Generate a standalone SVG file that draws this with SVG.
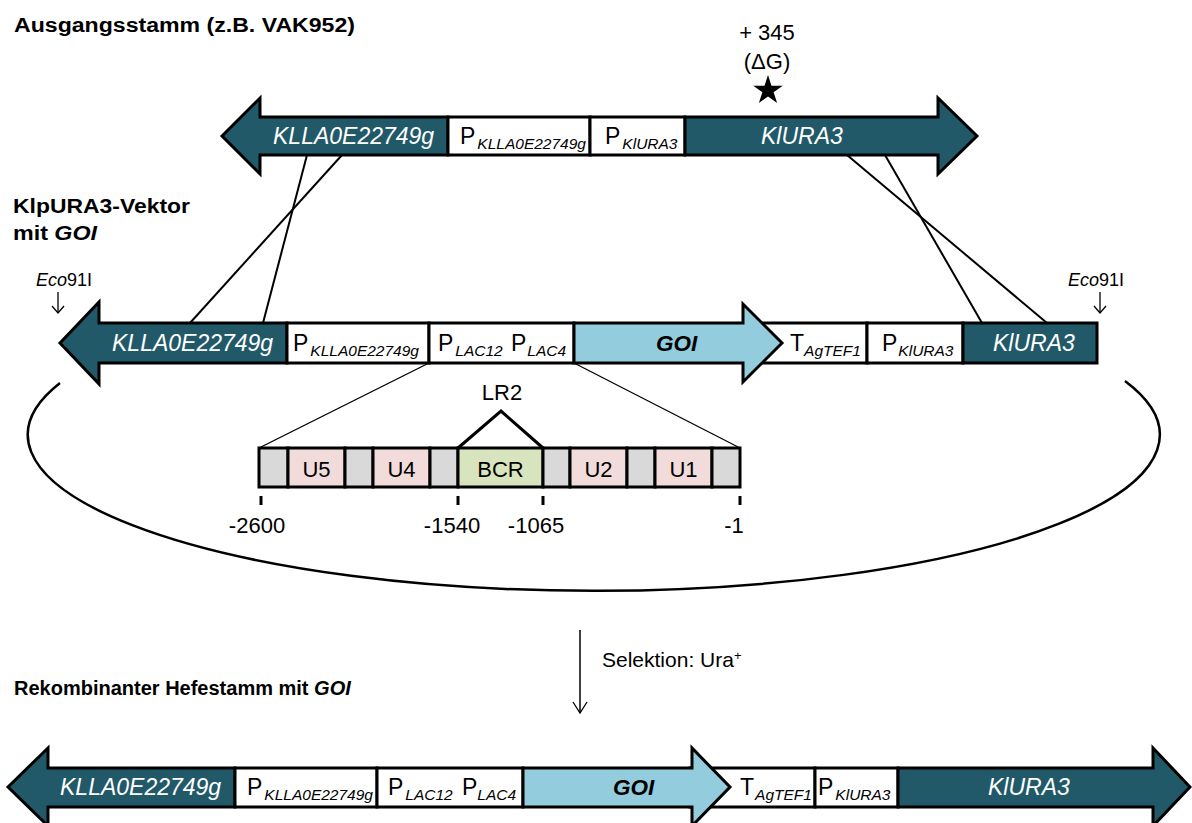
<svg xmlns="http://www.w3.org/2000/svg" width="1192" height="823" viewBox="0 0 1192 823">
<style>
text{font-family:"Liberation Sans",Arial,sans-serif;fill:#000}
.dk{fill:#215968;stroke:#000;stroke-width:3;stroke-linejoin:miter}
.wt{fill:#fff;stroke:#000;stroke-width:3}
.lb{fill:#93CDDD;stroke:#000;stroke-width:3;stroke-linejoin:miter}
.cg{fill:#D9D9D9;stroke:#000;stroke-width:3}
.cp{fill:#F2DCDB;stroke:#000;stroke-width:3}
.cb{fill:#D7E4BD;stroke:#000;stroke-width:3}
.gene{font-size:23px;font-style:italic;fill:#fff}
.pm{font-size:23px}
.sub{font-size:15.5px;font-style:italic}
.lbl{font-size:22px}
.bold{font-size:20px;font-weight:bold}
.ln{stroke:#000;stroke-width:2;fill:none}
.thin{stroke:#000;stroke-width:1.3;fill:none}
.tick{stroke:#000;stroke-width:3}
</style>
<rect width="1192" height="823" fill="#fff"/>

<g id="labels">
<text class="bold" x="14" y="32" textLength="341" lengthAdjust="spacingAndGlyphs">Ausgangsstamm (z.B. VAK952)</text>
<text class="bold" x="13" y="213" textLength="177" lengthAdjust="spacingAndGlyphs">KlpURA3-Vektor</text>
<text class="bold" x="13" y="240" textLength="84" lengthAdjust="spacingAndGlyphs">mit <tspan font-style="italic">GOI</tspan></text>
<text class="bold" x="14" y="695">Rekombinanter Hefestamm mit <tspan font-style="italic">GOI</tspan></text>
</g>

<g id="connectors">
<path d="M 60 383 A 566 156 0 1 0 1125 381" fill="none" stroke="#000" stroke-width="2.5"/>
<line class="ln" x1="342" y1="155" x2="190" y2="323"/>
<line class="ln" x1="307" y1="155" x2="263" y2="323"/>
<line class="ln" x1="847" y1="155" x2="1047" y2="323"/>
<line class="ln" x1="885" y1="155" x2="982" y2="323"/>
<line class="thin" x1="429" y1="363" x2="259" y2="448"/>
<line class="thin" x1="574" y1="363" x2="740" y2="448"/>
<line stroke="#000" stroke-width="1.5" x1="580" y1="630" x2="580" y2="713"/>
<polyline class="thin" stroke-width="1.5" points="573,702 580,713 587,702"/>
<line stroke="#000" stroke-width="1.3" x1="58" y1="292" x2="58" y2="313"/>
<polyline class="thin" points="52,306 58,313 64,306"/>
<line stroke="#000" stroke-width="1.3" x1="1100" y1="292" x2="1100" y2="313"/>
<polyline class="thin" points="1094,306 1100,313 1106,306"/>
</g>

<g id="mutation">
<text class="lbl" x="767" y="40" text-anchor="middle">+ 345</text>
<text class="lbl" x="767" y="69" text-anchor="middle">(ΔG)</text>
<polygon points="768,75 771.48,85.71 782.74,85.71 773.63,92.33 777.11,103.04 768,96.42 758.89,103.04 762.37,92.33 753.26,85.71 764.52,85.71" fill="#000"/>
</g>

<g id="top-KLLA">
<polygon class="dk" points="222,136 260,98 260,117 448,117 448,155 260,155 260,174"/>
<text class="gene" x="273" y="144">KLLA0E22749g</text>
</g>
<g id="top-PKLLA">
<rect class="wt" x="448" y="117" width="142" height="38"/>
<text class="pm" x="460" y="144">P<tspan class="sub" dx="2" dy="5">KLLA0E22749g</tspan></text>
</g>
<g id="top-PKlURA3">
<rect class="wt" x="590" y="117" width="95" height="38"/>
<text class="pm" x="605" y="144">P<tspan class="sub" dx="2" dy="5">KlURA3</tspan></text>
</g>
<g id="top-KlURA3">
<polygon class="dk" points="685,117 938,117 938,98 977,136 938,174 938,155 685,155"/>
<text class="gene" x="761" y="144">KlURA3</text>
</g>

<g id="eco-left"><text x="36" y="286" font-size="18"><tspan font-style="italic">Eco</tspan>91I</text></g>
<g id="eco-right"><text x="1068" y="286" font-size="18"><tspan font-style="italic">Eco</tspan>91I</text></g>

<g id="vec-KLLA">
<polygon class="dk" points="60,343 99,302 99,323 287,323 287,363 99,363 99,384"/>
<text class="gene" x="112" y="351">KLLA0E22749g</text>
</g>
<g id="vec-PKLLA">
<rect class="wt" x="287" y="323" width="142" height="40"/>
<text class="pm" x="293" y="351">P<tspan class="sub" dx="2" dy="5">KLLA0E22749g</tspan></text>
</g>
<g id="vec-PLAC">
<rect class="wt" x="429" y="323" width="145" height="40"/>
<text class="pm" x="438" y="351">P<tspan class="sub" dx="2" dy="5">LAC12</tspan></text>
<text class="pm" x="511" y="351">P<tspan class="sub" dx="1" dy="5">LAC4</tspan></text>
</g>
<g id="vec-T">
<rect class="wt" x="745" y="323" width="122" height="40"/>
<text class="pm" x="790" y="351">T<tspan class="sub" dx="0" dy="5">AgTEF1</tspan></text>
</g>
<g id="vec-GOI">
<polygon class="lb" points="574,323 743,323 743,304 782,343 743,382 743,363 574,363"/>
<text x="656" y="351" font-size="22.5" font-weight="bold" font-style="italic">GOI</text>
</g>
<g id="vec-PKlURA3">
<rect class="wt" x="867" y="323" width="96" height="40"/>
<text class="pm" x="882" y="351">P<tspan class="sub" dx="1" dy="5">KlURA3</tspan></text>
</g>
<g id="vec-KlURA3">
<rect class="dk" x="963" y="323" width="134" height="40"/>
<text class="gene" x="993" y="351">KlURA3</text>
</g>

<g id="promoter-detail">
<rect class="cg" x="259" y="448" width="29" height="39"/>
<rect class="cp" x="288" y="448" width="57" height="39"/>
<rect class="cg" x="345" y="448" width="28" height="39"/>
<rect class="cp" x="373" y="448" width="57" height="39"/>
<rect class="cg" x="430" y="448" width="28" height="39"/>
<rect class="cb" x="458" y="448" width="85" height="39"/>
<rect class="cg" x="543" y="448" width="27" height="39"/>
<rect class="cp" x="570" y="448" width="57" height="39"/>
<rect class="cg" x="627" y="448" width="28" height="39"/>
<rect class="cp" x="655" y="448" width="57" height="39"/>
<rect class="cg" x="712" y="448" width="28" height="39"/>
<text class="lbl" x="316.5" y="477" text-anchor="middle">U5</text>
<text class="lbl" x="401.5" y="477" text-anchor="middle">U4</text>
<text class="lbl" x="500.5" y="477" text-anchor="middle">BCR</text>
<text class="lbl" x="598.5" y="477" text-anchor="middle">U2</text>
<text class="lbl" x="683.5" y="477" text-anchor="middle">U1</text>
<polyline points="458,448 501,411 543,448" fill="none" stroke="#000" stroke-width="3"/>
<text class="lbl" x="502" y="400" text-anchor="middle">LR2</text>
<line class="tick" x1="261" y1="496" x2="261" y2="505"/>
<line class="tick" x1="458" y1="496" x2="458" y2="505"/>
<line class="tick" x1="543" y1="496" x2="543" y2="505"/>
<line class="tick" x1="740" y1="496" x2="740" y2="505"/>
<text class="lbl" x="257" y="533" text-anchor="middle">-2600</text>
<text class="lbl" x="452" y="533" text-anchor="middle">-1540</text>
<text class="lbl" x="536" y="533" text-anchor="middle">-1065</text>
<text class="lbl" x="734" y="533" text-anchor="middle">-1</text>
</g>

<g id="selektion">
<text x="602" y="667" font-size="21">Selektion: Ura<tspan font-size="13" dy="-7">+</tspan></text>
</g>

<g id="bot-KLLA">
<polygon class="dk" points="8,787 48,748 48,768 235,768 235,807 48,807 48,826"/>
<text class="gene" x="60" y="795">KLLA0E22749g</text>
</g>
<g id="bot-PKLLA">
<rect class="wt" x="235" y="768" width="142" height="39"/>
<text class="pm" x="247" y="795">P<tspan class="sub" dx="2" dy="5">KLLA0E22749g</tspan></text>
</g>
<g id="bot-PLAC">
<rect class="wt" x="377" y="768" width="146" height="39"/>
<text class="pm" x="388" y="795">P<tspan class="sub" dx="2" dy="5">LAC12</tspan></text>
<text class="pm" x="462" y="795">P<tspan class="sub" dx="0" dy="5">LAC4</tspan></text>
</g>
<g id="bot-T">
<rect class="wt" x="690" y="768" width="125" height="39"/>
<text class="pm" x="740" y="795">T<tspan class="sub" dx="1" dy="5">AgTEF1</tspan></text>
</g>
<g id="bot-GOI">
<polygon class="lb" points="523,768 692,768 692,748 730,787 692,826 692,807 523,807"/>
<text x="613" y="795" font-size="22.5" font-weight="bold" font-style="italic">GOI</text>
</g>
<g id="bot-PKlURA3">
<rect class="wt" x="815" y="768" width="83" height="39"/>
<text class="pm" x="818" y="795">P<tspan class="sub" dx="2" dy="5">KlURA3</tspan></text>
</g>
<g id="bot-KlURA3">
<polygon class="dk" points="898,768 1153,768 1153,748 1190,787 1153,826 1153,807 898,807"/>
<text class="gene" x="988" y="795">KlURA3</text>
</g>
</svg>
